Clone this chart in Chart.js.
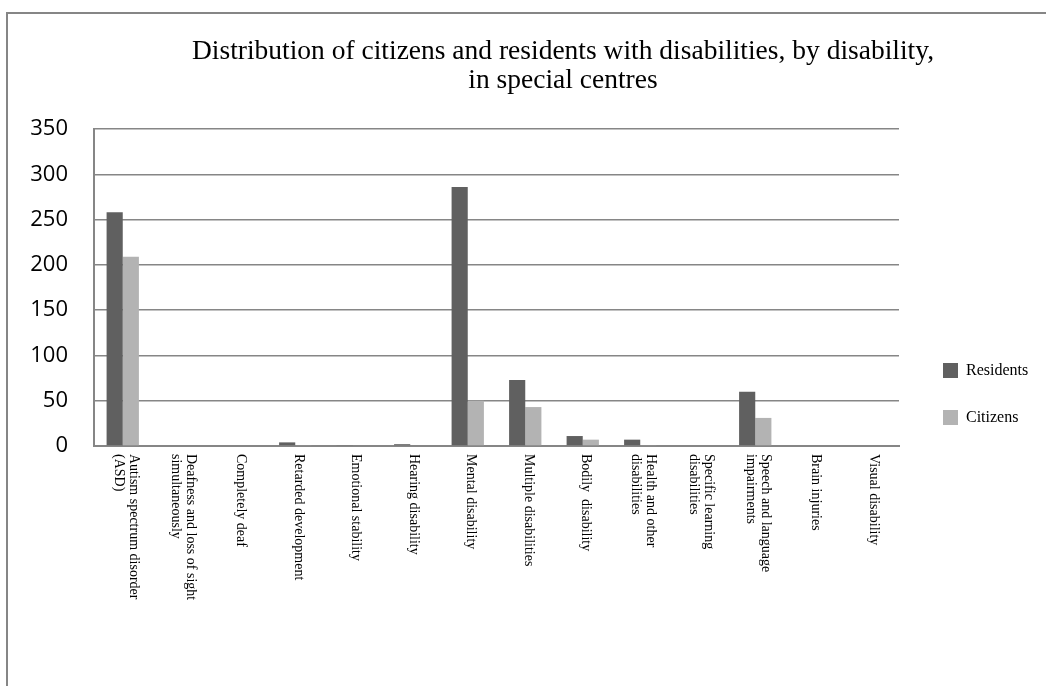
<!DOCTYPE html>
<html>
<head>
<meta charset="utf-8">
<script src="https://cdn.jsdelivr.net/npm/chart.js@4/dist/chart.umd.min.js"></script>
<style>
  body { margin: 0; background: #fff; }
  #moldura { position: absolute; left: 6px; top: 12px; width: 1100px; height: 800px; border: 2px solid #868686; }
  #grafico { position: absolute; left: 0; top: 0; }
</style>
</head>
<body>
<div id="moldura"></div>
<canvas id="grafico" width="1046" height="686"></canvas>
<script>
// categorias (cada item = linhas do rótulo)
const categorias = [
  ['Autism spectrum disorder', '(ASD)'],
  ['Deafness and loss of sight', 'simultaneously'],
  ['Completely deaf'],
  ['Retarded development'],
  ['Emotional stability'],
  ['Hearing disability'],
  ['Mental disability'],
  ['Multiple disabilities'],
  ['Bodily  disability'],
  ['Health and other', 'disabilities'],
  ['Specific learning', 'disabilities'],
  ['Speech and language', 'impairments'],
  ['Brain injuries'],
  ['Visual disability']
];
const residentes = [258, 0, 0, 4, 1, 2, 286, 73, 11, 7, 0, 60, 0, 0];
const cidadaos   = [209, 0, 0, 1, 0, 0, 50, 43, 7, 1, 0, 31, 0, 0];
const ticksY = [0, 50, 100, 150, 200, 250, 300, 350];
const titulo = ['Distribution of citizens and residents with disabilities, by disability,', 'in special centres'];

const cinzaGrade = '#868686';
const serifa = '"Liberation Serif", "Times New Roman", serif';

// título centrado como no original (fora do centro da área do gráfico)
const tituloTopo = {
  id: 'tituloTopo',
  afterDraw(chart) {
    const ctx = chart.ctx;
    ctx.save();
    ctx.fillStyle = '#000';
    ctx.font = '27.5px ' + serifa;
    ctx.textAlign = 'center';
    ctx.textBaseline = 'middle';
    titulo.forEach((l, i) => ctx.fillText(l, 563, 52 + i * 29));
    ctx.restore();
  }
};

// rótulos do eixo x girados (lidos de cima para baixo)
const rotulosX = {
  id: 'rotulosX',
  afterDraw(chart) {
    const ctx = chart.ctx;
    const x = chart.scales.x;
    ctx.save();
    ctx.fillStyle = '#000';
    ctx.font = '14px ' + serifa;
    ctx.textAlign = 'left';
    ctx.textBaseline = 'middle';
    chart.data.labels.forEach((linhas, i) => {
      const px = x.getPixelForTick(i) + 3;
      ctx.save();
      ctx.translate(px, chart.chartArea.bottom + 8);
      ctx.rotate(Math.PI / 2);
      linhas.forEach((l, j) => {
        ctx.fillText(l, 0, (j - (linhas.length - 1) / 2) * 15);
      });
      ctx.restore();
    });
    ctx.restore();
  }
};

// legenda à direita
const legendaDireita = {
  id: 'legendaDireita',
  afterDraw(chart) {
    const ctx = chart.ctx;
    ctx.save();
    ctx.font = '16px ' + serifa;
    ctx.textBaseline = 'middle';
    ctx.textAlign = 'left';
    chart.data.datasets.forEach((ds, i) => {
      const y = 363 + i * 47;
      ctx.fillStyle = ds.backgroundColor;
      ctx.fillRect(943, y, 15, 15);
      ctx.fillStyle = '#000';
      ctx.fillText(ds.label, 966, y + 8);
    });
    ctx.restore();
  }
};

const ctx = document.getElementById('grafico').getContext('2d');
new Chart(ctx, {
  type: 'bar',
  data: {
    labels: categorias,
    datasets: [
      { label: 'Residents', data: residentes, backgroundColor: '#606060' },
      { label: 'Citizens', data: cidadaos, backgroundColor: '#b3b3b3' }
    ]
  },
  options: {
    responsive: false,
    animation: false,
    categoryPercentage: 0.562,
    barPercentage: 1.0,
    layout: { padding: { left: 0, right: 147, top: 129, bottom: 0 } },
    plugins: {
      legend: { display: false },
      tooltip: { enabled: false },
      title: { display: false }
    },
    scales: {
      x: {
        grid: { display: false },
        border: { display: true, color: cinzaGrade, width: 2 },
        ticks: { display: false },
        afterFit(s) { s.height = 240; }
      },
      y: {
        min: 0,
        max: 350,
        afterBuildTicks(s) { s.ticks = ticksY.map(v => ({ value: v })); },
        grid: { color: cinzaGrade, lineWidth: 1.5, drawTicks: false },
        border: { display: true, color: cinzaGrade, width: 2 },
        ticks: {
          color: '#000',
          padding: 26,
          font: { family: '"Open Sans", "Liberation Sans", sans-serif', size: 22 }
        },
        afterFit(s) { s.width = 94; }
      }
    }
  },
  plugins: [tituloTopo, rotulosX, legendaDireita]
});
</script>
</body>
</html>
